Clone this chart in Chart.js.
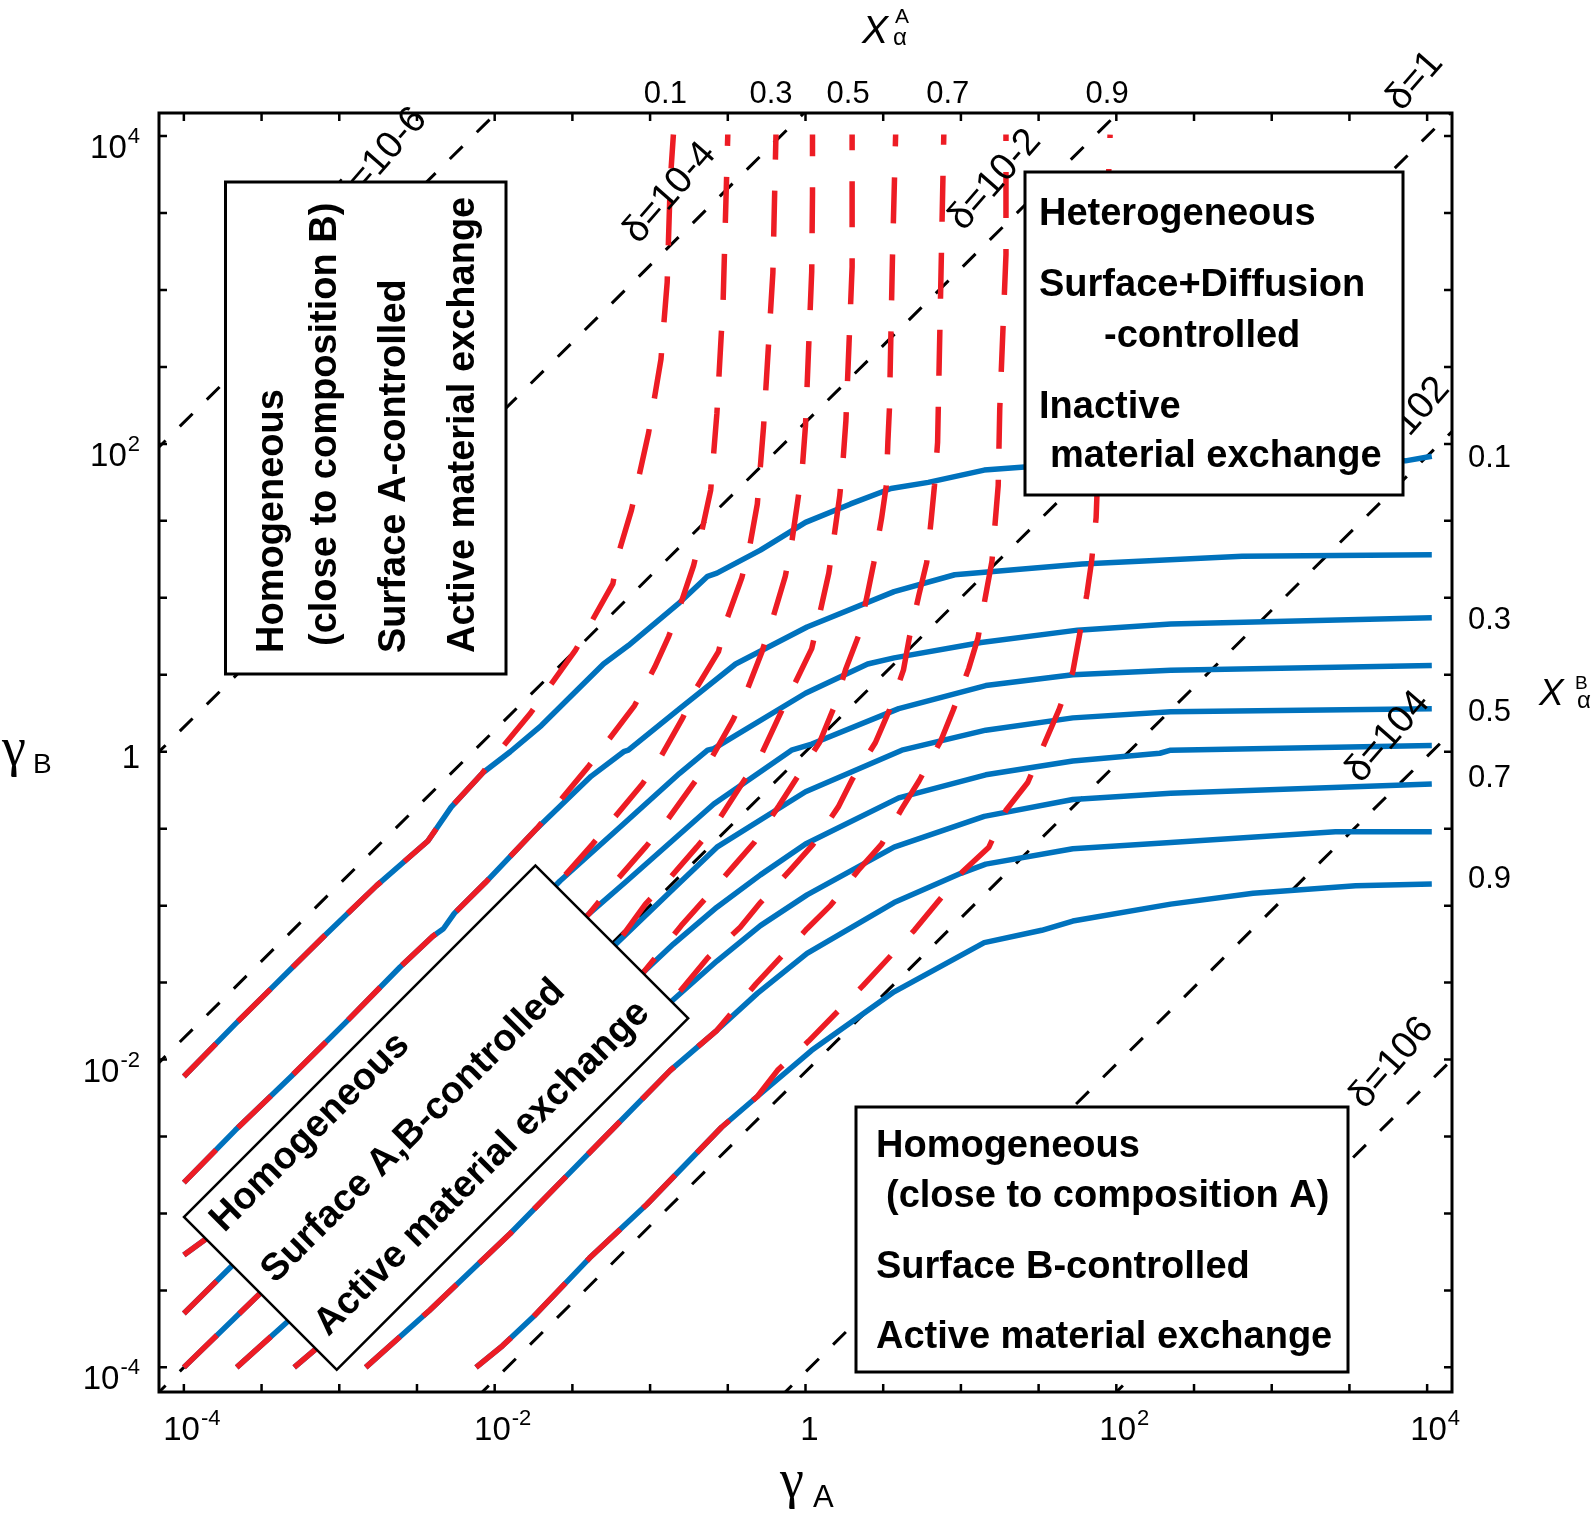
<!DOCTYPE html>
<html lang="en">
<head>
<meta charset="UTF-8">
<title>Surface / diffusion control map</title>
<script src="https://cdn.jsdelivr.net/npm/chart.js"></script>
<style>
  html, body { margin: 0; padding: 0; background: #fff; }
  #wrap { width: 1594px; height: 1520px; }
</style>
</head>
<body>
<div id="wrap"><canvas id="map" width="1594" height="1520"></canvas></div>
<script>
// every curve is a list of [log10(gammaA), log10(gammaB)] pairs

// blue: constant X_alpha^B = 0.1 ... 0.9
const xb01 = [[-4.00,-2.11],[-3.67,-1.77],[-3.47,-1.57],[-3.32,-1.42],[-3.11,-1.21],[-2.76,-0.87],[-2.43,-0.58],[-2.28,-0.36],[-2.08,-0.14],[-1.90,0.00],[-1.70,0.17],[-1.51,0.36],[-1.30,0.57],[-1.14,0.69],[-0.82,0.96],[-0.63,1.14],[-0.57,1.16],[-0.29,1.31],[0.00,1.49],[0.29,1.61],[0.55,1.71],[0.79,1.75],[1.15,1.83],[1.41,1.85],[3.86,1.89],[4.03,1.92]];
const xb02 = [[-4.00,-2.80],[-3.67,-2.46],[-3.31,-2.11],[-2.96,-1.76],[-2.61,-1.40],[-2.40,-1.20],[-2.33,-1.15],[-2.26,-1.05],[-2.06,-0.85],[-1.73,-0.50],[-1.38,-0.16],[-1.17,0.00],[-1.14,0.01],[-0.81,0.28],[-0.45,0.57],[0.01,0.81],[0.57,1.04],[0.96,1.15],[1.78,1.22],[2.81,1.27],[4.03,1.28]];
const xb03 = [[-4.00,-3.27],[-3.81,-3.13],[-1.58,-0.84],[-1.15,-0.45],[-0.81,-0.14],[-0.63,0.01],[-0.59,0.02],[-0.46,0.10],[0.00,0.38],[0.40,0.57],[0.57,0.61],[1.13,0.71],[1.75,0.79],[2.35,0.83],[4.03,0.87]];
const xb04 = [[-4.00,-3.65],[-3.69,-3.34],[-1.39,-1.05],[-1.15,-0.84],[-0.59,-0.34],[-0.09,0.01],[0.04,0.05],[0.60,0.28],[1.16,0.43],[1.72,0.50],[2.35,0.53],[4.03,0.56]];
const xb05 = [[-4.00,-4.00],[-3.51,-3.52],[-1.21,-1.24],[-0.85,-0.89],[-0.57,-0.62],[0.00,-0.26],[0.62,0.01],[1.16,0.14],[1.72,0.22],[2.35,0.26],[4.03,0.28]];
const xb06 = [[-3.66,-4.00],[-3.33,-3.70],[-1.04,-1.43],[-0.85,-1.25],[-0.57,-1.01],[-0.29,-0.80],[0.00,-0.60],[0.60,-0.30],[1.16,-0.15],[1.72,-0.06],[2.28,-0.01],[2.35,0.01],[4.03,0.04]];
const xb07 = [[-3.29,-4.00],[-3.15,-3.88],[-0.86,-1.62],[-0.57,-1.36],[-0.29,-1.13],[0.01,-0.93],[0.57,-0.62],[1.15,-0.42],[1.72,-0.31],[2.35,-0.27],[4.03,-0.21]];
const xb08 = [[-2.83,-4.00],[-2.42,-3.63],[-1.90,-3.13],[-1.57,-2.79],[-1.22,-2.43],[-0.87,-2.07],[-0.57,-1.81],[-0.31,-1.57],[0.01,-1.31],[0.57,-0.98],[1.00,-0.79],[1.16,-0.73],[1.72,-0.63],[2.35,-0.59],[3.41,-0.52],[4.03,-0.52]];
const xb09 = [[-2.12,-4.00],[-1.95,-3.86],[-1.75,-3.67],[-1.39,-3.29],[-1.02,-2.94],[-0.54,-2.44],[-0.31,-2.24],[0.04,-1.94],[0.57,-1.56],[1.15,-1.24],[1.52,-1.16],[1.72,-1.10],[2.35,-0.99],[2.88,-0.92],[3.54,-0.87],[4.03,-0.86]];

// red dashed: constant X_alpha^A, they run on top of the blue ones in the lower left
const xa01 = xb01.slice(0, 9).concat([[-1.95,0.03],[-1.77,0.25],[-1.48,0.66],[-1.24,1.09],[-1.20,1.30],[-1.12,1.57],[-1.01,2.07],[-0.93,2.55],[-0.89,3.05],[-0.87,3.71],[-0.85,4.01]]);
const xa02 = xb02.slice(0, 10).concat([[-1.40,-0.10],[-1.10,0.30],[-0.97,0.55],[-0.88,0.75],[-0.81,0.94],[-0.72,1.21],[-0.67,1.42],[-0.61,1.70],[-0.57,2.20],[-0.53,2.93],[-0.50,4.01]]);
const xa03 = xb03.slice(0, 3).concat([[-1.37,-0.60],[-1.24,-0.44],[-1.05,-0.21],[-0.93,-0.03],[-0.79,0.22],[-0.71,0.40],[-0.56,0.65],[-0.51,0.85],[-0.41,1.13],[-0.36,1.33],[-0.31,1.61],[-0.27,2.11],[-0.24,2.61],[-0.21,3.11],[-0.19,4.01]]);
const xa04 = xb04.slice(0, 3).concat([[-1.22,-0.84],[-1.03,-0.62],[-0.90,-0.46],[-0.73,-0.22],[-0.61,-0.05],[-0.47,0.20],[-0.38,0.39],[-0.28,0.65],[-0.21,0.87],[-0.13,1.14],[-0.09,1.35],[-0.05,1.63],[-0.02,1.85],[0.00,2.12],[0.02,2.62],[0.04,3.12],[0.045,3.62],[0.045,4.01]]);
const xa05 = xb05.slice(0, 3).concat([[-1.03,-0.99],[-0.89,-0.84],[-0.70,-0.62],[-0.57,-0.46],[-0.41,-0.21],[-0.29,-0.03],[-0.17,0.23],[-0.08,0.42],[0.04,0.67],[0.09,0.89],[0.15,1.16],[0.18,1.37],[0.22,1.66],[0.24,1.87],[0.26,2.15],[0.28,2.65],[0.30,3.15],[0.30,4.01]]);
const xa06 = xb06.slice(0, 3).concat([[-0.80,-1.13],[-0.65,-0.96],[-0.46,-0.74],[-0.33,-0.59],[-0.17,-0.35],[-0.05,-0.16],[0.09,0.06],[0.18,0.28],[0.26,0.54],[0.34,0.75],[0.40,1.03],[0.44,1.23],[0.49,1.52],[0.52,1.73],[0.53,2.01],[0.54,2.23],[0.55,2.73],[0.56,3.23],[0.58,4.01]]);
const xa07 = xb07.slice(0, 3).concat([[-0.63,-1.34],[-0.42,-1.14],[-0.29,-0.98],[-0.09,-0.76],[0.05,-0.60],[0.21,-0.36],[0.30,-0.18],[0.45,0.06],[0.54,0.27],[0.63,0.53],[0.67,0.75],[0.73,1.02],[0.78,1.23],[0.81,1.52],[0.83,1.73],[0.85,2.01],[0.86,2.51],[0.87,3.01],[0.88,3.51],[0.89,4.01]]);
const xa08 = xb08.slice(0, 7).concat([[-0.32,-1.51],[0.01,-1.15],[0.16,-1.00],[0.34,-0.77],[0.49,-0.60],[0.62,-0.37],[0.73,-0.19],[0.87,0.07],[0.95,0.27],[1.05,0.54],[1.11,0.74],[1.16,1.02],[1.20,1.24],[1.24,1.73],[1.25,2.23],[1.27,2.73],[1.29,3.23],[1.29,4.01]]);
const xa09 = xb09.slice(0, 7).concat([[-0.18,-2.07],[0.02,-1.88],[0.37,-1.52],[0.70,-1.16],[1.01,-0.78],[1.18,-0.62],[1.29,-0.38],[1.43,-0.20],[1.54,0.06],[1.63,0.27],[1.72,0.52],[1.76,0.74],[1.81,1.02],[1.84,1.23],[1.87,1.52],[1.96,4.01]]);

// black dashed iso-delta lines, the two points where each one leaves the frame
const deltaNames = ['δ=10-6', 'δ=10-4', 'δ=10-2', 'δ=1', 'δ=102', 'δ=104', 'δ=106'];
const deltaLines = [
  [[-4.20, 1.94], [-1.98, 4.16]],
  [[-4.20, -0.04], [0.00, 4.16]],
  [[-4.20, -2.06], [2.02, 4.16]],
  [[-4.20, -4.20], [4.20, 4.20]],
  [[-2.12, -4.20], [4.20, 2.12]],
  [[-0.17, -4.20], [4.20, 0.17]],
  [[1.96, -4.20], [4.20, -1.96]]
];

const tickExps = [-4, -3.5, -3, -2.5, -2, -1.5, -1, -0.5, 0, 0.5, 1, 1.5, 2, 2.5, 3, 3.5, 4];
const labelExps = [-4, -2, 0, 2, 4];
const compLabels = ['0.1', '0.3', '0.5', '0.7', '0.9'];

const blueCurves = [xb01, xb02, xb03, xb04, xb05, xb06, xb07, xb08, xb09];
const redCurves = [xa01, xa02, xa03, xa04, xa05, xa06, xa07, xa08, xa09];

const BLUE = '#0072BD', RED = '#ED1C24';
const SANS = '"Liberation Sans", Arial, sans-serif';
const toPts = arr => arr.map(([a, b]) => ({ x: Math.pow(10, a), y: Math.pow(10, b) }));

const datasets = [];
deltaLines.forEach(l => datasets.push({
  data: toPts(l), showLine: true, borderColor: '#000', borderWidth: 3,
  borderDash: [18, 20], pointRadius: 0, order: 3
}));
blueCurves.forEach(c => datasets.push({
  data: toPts(c), showLine: true, borderColor: BLUE, borderWidth: 5.5,
  borderJoinStyle: 'round', pointRadius: 0, order: 2
}));
redCurves.forEach(c => datasets.push({
  data: toPts(c), showLine: true, borderColor: RED, borderWidth: 5.5,
  borderDash: [46, 31], borderJoinStyle: 'round', pointRadius: 0, order: 1
}));

// layout of the annotations (pixels)
const deltaLabelPos = [[381, 158], [670, 193], [995, 180], [1415, 81], [1408, 423], [1388, 737], [1392, 1063]];
const topLabelShift = [-8, -5, -4, 4, -3];
const rightLabelShift = [0, 0, 1, -8, -7];

function powLabel(ctx, e, xPos, base, align) {
  const main = e === 0 ? '1' : '10';
  const sup = e === 0 ? '' : String(e);
  ctx.font = '33px ' + SANS;
  const wm = ctx.measureText(main).width;
  ctx.font = '22px ' + SANS;
  const ws = sup ? ctx.measureText(sup).width + 1 : 0;
  const w = wm + ws;
  const left = align === 'right' ? xPos - w : xPos - w / 2;
  ctx.textAlign = 'left';
  ctx.textBaseline = 'alphabetic';
  ctx.font = '33px ' + SANS;
  ctx.fillText(main, left, base);
  if (sup) {
    ctx.font = '22px ' + SANS;
    ctx.fillText(sup, left + wm + 1, base - 15);
  }
}

function whiteBox(ctx, x0, y0, w, h, lw) {
  ctx.fillStyle = '#fff';
  ctx.fillRect(x0, y0, w, h);
  ctx.lineWidth = lw;
  ctx.strokeStyle = '#000';
  ctx.strokeRect(x0, y0, w, h);
  ctx.fillStyle = '#000';
}

const frame = {
  id: 'frame',
  afterDatasetsDraw(chart) {
    const { ctx, chartArea: a, scales: { x, y } } = chart;
    const X = e => x.getPixelForValue(Math.pow(10, e));
    const Y = e => y.getPixelForValue(Math.pow(10, e));
    ctx.save();
    ctx.fillStyle = '#000';

    // delta labels
    ctx.font = '38px ' + SANS;
    ctx.textAlign = 'center';
    ctx.textBaseline = 'middle';
    deltaNames.forEach((t, i) => {
      ctx.save();
      ctx.translate(deltaLabelPos[i][0], deltaLabelPos[i][1]);
      ctx.rotate(-49 * Math.PI / 180);
      ctx.fillText(t, 0, 0);
      ctx.restore();
    });

    const bold = 'bold 38px ' + SANS;
    ctx.textAlign = 'left';
    ctx.textBaseline = 'alphabetic';

    // upper left box, vertical text
    whiteBox(ctx, 225.5, 182, 280.5, 492, 3);
    ctx.font = bold;
    [['Homogeneous', 283, 653], ['(close to composition B)', 336, 646],
     ['Surface A-controlled', 405, 653], ['Active material exchange', 474, 653]].forEach(([t, bx, by]) => {
      ctx.save(); ctx.translate(bx, by); ctx.rotate(-Math.PI / 2); ctx.fillText(t, 0, 0); ctx.restore();
    });

    // upper right box
    whiteBox(ctx, 1025, 172, 378, 323, 3);
    ctx.font = bold;
    [['Heterogeneous', 1039, 225], ['Surface+Diffusion', 1039, 296], ['-controlled', 1104, 347],
     ['Inactive', 1039, 418], ['material exchange', 1050, 467]].forEach(([t, tx, ty]) => ctx.fillText(t, tx, ty));

    // lower right box
    whiteBox(ctx, 856, 1107, 492, 265, 3);
    ctx.font = bold;
    [['Homogeneous', 876, 1157], ['(close to composition A)', 886, 1207],
     ['Surface B-controlled', 876, 1278], ['Active material exchange', 876, 1348]].forEach(([t, tx, ty]) => ctx.fillText(t, tx, ty));

    // tilted box
    ctx.save();
    ctx.translate(184, 1217);
    ctx.rotate(-Math.PI / 4);
    whiteBox(ctx, 0, 0, 497, 216, 2.5);
    ctx.font = bold;
    ctx.fillText('Homogeneous', 17, 40);
    ctx.fillText('Surface A,B-controlled', 17, 112);
    ctx.fillText('Active material exchange', 17, 187);
    ctx.restore();

    // axes frame and inward ticks on all sides
    ctx.strokeStyle = '#000';
    ctx.lineWidth = 3;
    ctx.strokeRect(a.left, a.top, a.right - a.left, a.bottom - a.top);
    ctx.lineWidth = 2.5;
    ctx.beginPath();
    tickExps.forEach(e => {
      const px = X(e), py = Y(e);
      ctx.moveTo(px, a.bottom); ctx.lineTo(px, a.bottom - 8);
      ctx.moveTo(px, a.top); ctx.lineTo(px, a.top + 8);
      ctx.moveTo(a.left, py); ctx.lineTo(a.left + 8, py);
      ctx.moveTo(a.right, py); ctx.lineTo(a.right - 8, py);
    });
    ctx.stroke();

    // tick labels
    ctx.fillStyle = '#000';
    labelExps.forEach(e => {
      powLabel(ctx, e, X(e) + (e === 0 ? 4 : 8), 1440, 'center');
      powLabel(ctx, e, 140, Y(e) + (e === 0 ? 16 : 22), 'right');
    });

    // composition labels: top at the red ends, right at the blue ends
    ctx.font = '31px ' + SANS;
    ctx.textBaseline = 'alphabetic';
    compLabels.forEach((t, i) => {
      const red = redCurves[i * 2], blue = blueCurves[i * 2];
      ctx.textAlign = 'center';
      ctx.fillText(t, X(red[red.length - 1][0]) + topLabelShift[i], 103);
      ctx.textAlign = 'left';
      ctx.fillText(t, 1468, Y(blue[blue.length - 1][1]) + rightLabelShift[i] + 11);
    });

    // axis titles
    ctx.textAlign = 'left';
    ctx.font = '54px "Liberation Serif", "Times New Roman", serif';
    ctx.fillText('γ', 2, 765);
    ctx.fillText('γ', 780, 1497);
    ctx.font = '28px ' + SANS;
    ctx.fillText('B', 33, 773);
    ctx.font = '31px ' + SANS;
    ctx.fillText('A', 813, 1507);

    ctx.font = 'italic 39px ' + SANS;
    ctx.fillText('X', 862, 43);
    ctx.font = '21px ' + SANS;
    ctx.fillText('A', 895, 23);
    ctx.font = '24px ' + SANS;
    ctx.fillText('α', 893, 45);

    ctx.font = 'italic 37px ' + SANS;
    ctx.fillText('X', 1539, 705);
    ctx.font = '19px ' + SANS;
    ctx.fillText('B', 1575, 689);
    ctx.font = '24px ' + SANS;
    ctx.fillText('α', 1577, 708);

    ctx.restore();
  }
};

new Chart(document.getElementById('map'), {
  type: 'scatter',
  data: { datasets },
  options: {
    responsive: false,
    animation: false,
    events: [],
    layout: { padding: { left: 159, right: 142, top: 113, bottom: 128 } },
    scales: {
      x: { type: 'logarithmic', min: Math.pow(10, -4.16), max: Math.pow(10, 4.16), display: false },
      y: { type: 'logarithmic', min: Math.pow(10, -4.16), max: Math.pow(10, 4.15), display: false }
    },
    plugins: { legend: { display: false }, tooltip: { enabled: false } }
  },
  plugins: [frame]
});
</script>
</body>
</html>
